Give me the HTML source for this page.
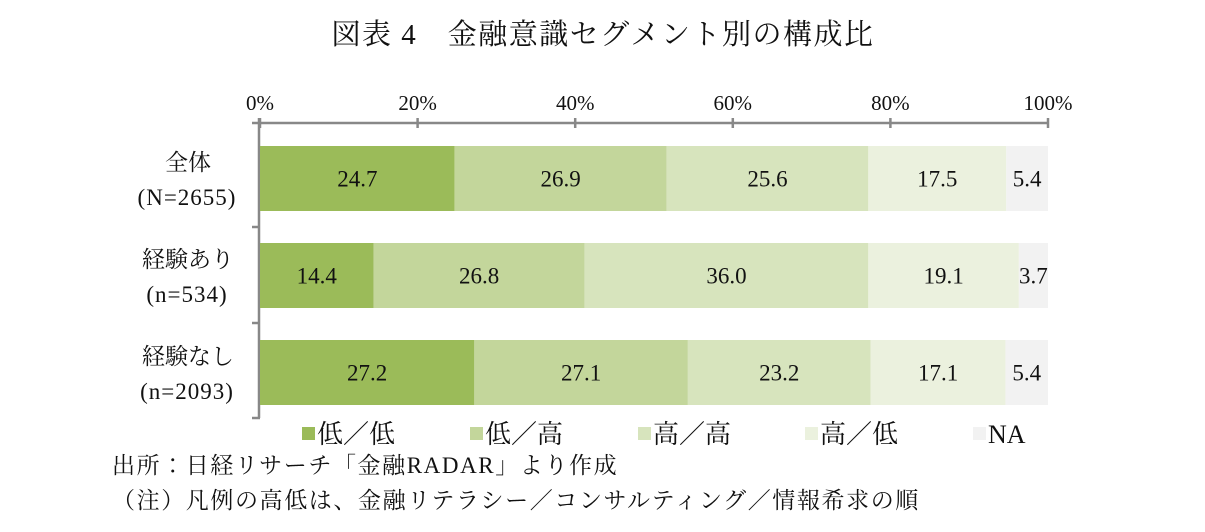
<!DOCTYPE html>
<html><head><meta charset="utf-8">
<style>
body{margin:0;background:#fff;width:1205px;height:527px;overflow:hidden;font-family:"Liberation Serif","Noto Serif CJK JP","Noto Serif CJK SC",serif;}
svg text{font-family:"Liberation Serif","Noto Serif CJK JP","Noto Serif CJK SC",serif;fill:#111;}
</style></head><body>
<svg id="chart" width="1205" height="527">
<text x="603" y="44" font-size="29" letter-spacing="1.5" text-anchor="middle">図表 4　金融意識セグメント別の構成比</text>
<g id="axis"></g>
<g id="bars"></g>
<g id="legend"></g>
<text x="112" y="473" font-size="23" letter-spacing="1.6">出所：日経リサーチ「金融RADAR」より作成</text>
<text x="112" y="508" font-size="23" letter-spacing="1.6">（注）凡例の高低は、金融リテラシー／コンサルティング／情報希求の順</text>
</svg>
<script>
const categories=["全体","経験あり","経験なし"];
const catSub=["(N=2655)","(n=534)","(n=2093)"];
const series=["低／低","低／高","高／高","高／低","NA"];
const s1=[24.7,14.4,27.2];
const s2=[26.9,26.8,27.1];
const s3=[25.6,36.0,23.2];
const s4=[17.5,19.1,17.1];
const s5=[5.4,3.7,5.4];
const ticks=[0,20,40,60,80,100];
const colors=["#9BBB59","#C3D69B","#D7E4BD","#EBF1DE","#F2F2F2"];
const NS="http://www.w3.org/2000/svg";
const x0=260,x1=1048;
const xs=v=>x0+(x1-x0)*v/100;
const rowTop=[146,243,340],barH=65;
function mk(tag,attrs,parent){const e=document.createElementNS(NS,tag);for(const k in attrs)e.setAttribute(k,attrs[k]);parent.appendChild(e);return e;}
const ax=document.getElementById('axis');
let l=mk('line',{x1:252,y1:123,x2:x1+1,y2:123,stroke:'#888','stroke-width':2.5},ax);


l=mk('line',{x1:x0-1,y1:118,x2:x0-1,y2:418,stroke:'#888','stroke-width':2.5},ax);


ticks.forEach(t=>{
 const tl=mk('line',{x1:xs(t),y1:118,x2:xs(t),y2:128,stroke:'#888','stroke-width':2.5},ax);
 
 
 const tx=mk('text',{x:xs(t),y:110,'font-size':21,'text-anchor':'middle'},ax);
 tx.textContent=t+'%';
 
 
});
[227,323,418].forEach(y=>{
 const tl=mk('line',{x1:252,y1:y,x2:x0,y2:y,stroke:'#888','stroke-width':2.5},ax);
 
 
});
const bg=document.getElementById('bars');
const all=[s1,s2,s3,s4,s5];
categories.forEach((c,i)=>{
 const t1=mk('text',{x:188,y:rowTop[i]+24,'font-size':23,'text-anchor':'middle'},bg);
 t1.textContent=c;
 
 
 const t2=mk('text',{x:187,y:rowTop[i]+59,'font-size':23,'letter-spacing':1,'text-anchor':'middle'},bg);
 t2.textContent=catSub[i];
 
 
 let cum=0;
 all.forEach((s,j)=>{
  const v=s[i];
  const xa=xs(cum),xb=Math.min(xs(cum+v),x1);
  const r=mk('rect',{x:xa,y:rowTop[i],width:Math.max(0,xb-xa),height:barH,fill:colors[j]},bg);
  
  
  const tv=mk('text',{x:(xa+xb)/2,y:rowTop[i]+barH/2+8,'font-size':23,'text-anchor':'middle'},bg);
  tv.textContent=v.toFixed(1);
  
  
  cum+=v;
 });
});
const lg=document.getElementById('legend');
const lx=[302,470,638,805,973];
series.forEach((s,j)=>{
 const r=mk('rect',{x:lx[j],y:427,width:13,height:13,fill:colors[j]},lg);
 
 
 const t=mk('text',{x:lx[j]+15,y:443,'font-size':26},lg);
 t.textContent=s;
 
 
});
</script>
</body></html>
